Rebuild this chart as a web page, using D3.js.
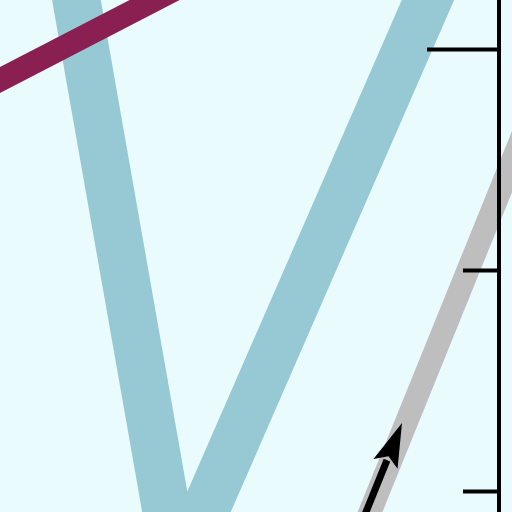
<!DOCTYPE html>
<html>
<head>
<meta charset="utf-8">
<script src="https://cdn.jsdelivr.net/npm/d3@7"></script>
<style>
html,body{margin:0;padding:0;background:#e9fbfd;}
svg{display:block;}
</style>
</head>
<body>
<svg id="chart" width="512" height="512"></svg>
<script>
// ---- data (x in chart units 0..100, y in value units) ----
const vSeries = [
  {x: 13.2, y: 2.493},
  {x: 35.57, y: -0.376},
  {x: 91.0, y: 2.493}
];
const maroonSeries = [
  {x: -4.0, y: 1.813},
  {x: 40.08, y: 2.328}
];
const graySeries = [
  {x: 70.26, y: -0.312},
  {x: 107.6, y: 1.769}
];
const arrowSeries = [
  {x: 69.46, y: -0.312},
  {x: 80.56, y: 0.3077}
];
const yTickValues = [0, 1, 2];
const yMajorTicks = [2];

// ---- scales ----
const W = 512, H = 512;
const x = d3.scaleLinear().domain([0, 100]).range([0, 499]);
const y = d3.scaleLinear().domain([0, 2]).range([491, 49]);

const svg = d3.select("#chart");
svg.append("rect").attr("width", W).attr("height", H).attr("fill", "#e9fbfd");

const line = d3.line().x(d => x(d.x)).y(d => y(d.y));

// big V
svg.append("path").datum(vSeries)
  .attr("d", line)
  .attr("fill", "none")
  .attr("stroke", "#97c9d5")
  .attr("stroke-width", 48)
  .attr("stroke-linejoin", "miter")
  .attr("stroke-miterlimit", 10);

// maroon line
svg.append("path").datum(maroonSeries)
  .attr("d", line)
  .attr("fill", "none")
  .attr("stroke", "#8a1f52")
  .attr("stroke-width", 23);

// gray line
svg.append("path").datum(graySeries)
  .attr("d", line)
  .attr("fill", "none")
  .attr("stroke", "#bebebe")
  .attr("stroke-width", 23);

// arrow
(function(){
  const p0 = [x(arrowSeries[0].x), y(arrowSeries[0].y)];
  const p1 = [x(arrowSeries[1].x), y(arrowSeries[1].y)];
  const dx = p1[0]-p0[0], dy = p1[1]-p0[1];
  const len = Math.hypot(dx, dy);
  const ux = dx/len, uy = dy/len;
  const headLen = 44, headHalf = 13;
  const bx = p1[0] - ux*headLen, by = p1[1] - uy*headLen;
  svg.append("line")
    .attr("x1", p0[0]).attr("y1", p0[1])
    .attr("x2", bx + ux*4).attr("y2", by + uy*4)
    .attr("stroke", "#000").attr("stroke-width", 7);
  const pts = [
    [p1[0], p1[1]],
    [bx - uy*headHalf, by + ux*headHalf],
    [bx + ux*8, by + uy*8],
    [bx + uy*headHalf, by - ux*headHalf]
  ];
  svg.append("polygon")
    .attr("points", pts.map(p => p.join(",")).join(" "))
    .attr("fill", "#000");
})();

// right axis
const axisX = x(100);
const axisG = svg.append("g").attr("transform", `translate(${axisX},0)`);
axisG.append("line")
  .attr("x1", 0).attr("x2", 0)
  .attr("y1", y(y.invert(0))).attr("y2", y(y.invert(H)))
  .attr("stroke", "#000").attr("stroke-width", 4);
const axis = d3.axisLeft(y).tickValues(yTickValues).tickSize(36).tickFormat("");
axisG.call(axis);
axisG.select(".domain").remove();
axisG.selectAll(".tick line")
  .attr("stroke", "#000")
  .attr("stroke-width", 4)
  .attr("x2", d => yMajorTicks.includes(d) ? -72 : -36);
</script>
</body>
</html>
